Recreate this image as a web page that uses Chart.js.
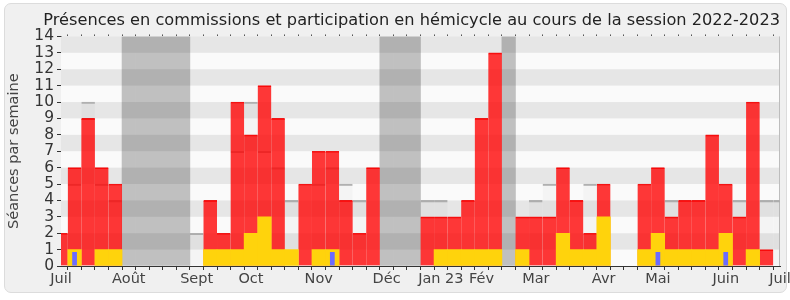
<!DOCTYPE html>
<html>
<head>
<meta charset="utf-8">
<script src="https://cdn.jsdelivr.net/npm/chart.js@4/dist/chart.umd.min.js"></script>
<style>
  html, body { margin: 0; padding: 0; background: #fff; }
  #panel {
    position: absolute; left: 4px; top: 3px; width: 781px; height: 288px;
    background: #f0f0f0; border: 1px solid #dcdcdc; border-radius: 7px;
  }
  #wrap { position: absolute; left: 0; top: 0; width: 790px; height: 300px; }
</style>
</head>
<body>
<div id="panel"></div>
<div id="wrap"><canvas id="chart" width="790" height="300"></canvas></div>
<script>
// semaines de juillet 2022 à juillet 2023 (54 positions)
const mois = {0: 'Juil', 5: 'Août', 10: 'Sept', 14: 'Oct', 19: 'Nov', 24: 'Déc',
  28: 'Jan 23', 31: 'Fév', 35: 'Mar', 40: 'Avr', 44: 'Mai', 49: 'Juin', 53: 'Juil'};
const semaines = Array.from({length: 54}, (_, i) => mois[i] || '');

// vacances parlementaires (index des semaines)
const vacances = [5, 6, 7, 8, 9, 24, 25, 26, 33];

// présences en commission (rouge)
const commissions = [2, 6, 9, 6, 5, 0, 0, 0, 0, 0,
  0, 4, 2, 10, 8, 11, 9, 0, 5, 7,
  7, 4, 2, 6, 0, 0, 0, 3, 3, 3,
  4, 9, 13, 0, 3, 3, 3, 6, 4, 2,
  5, 0, 0, 5, 6, 3, 4, 4, 8, 5,
  3, 10, 1, 0];

// participation en hémicycle (jaune)
const hemicycle = [0, 1, 0, 1, 1, 0, 0, 0, 0, 0,
  0, 1, 1, 1, 2, 3, 1, 1, 0, 1,
  1, 0, 0, 0, 0, 0, 0, 0, 1, 1,
  1, 1, 1, 0, 1, 0, 0, 2, 1, 1,
  3, 0, 0, 1, 2, 1, 1, 1, 1, 2,
  0, 1, 0, 0];

// questions orales (bleu)
const questions = [0, 0.85, 0, 0, 0, 0, 0, 0, 0, 0,
  0, 0, 0, 0, 0, 0, 0, 0, 0, 0,
  0.85, 0, 0, 0, 0, 0, 0, 0, 0, 0,
  0, 0, 0, 0, 0, 0, 0, 0, 0, 0,
  0, 0, 0, 0, 0.85, 0, 0, 0, 0, 0.85,
  0, 0, 0, 0];

// médiane des députés (gris)
const mediane = [null, 5, 10, 5, 4, null, null, null, null, null,
  2, null, null, 7, 10, 7, 6, 4, null, 5,
  6, 5, 4, null, null, null, null, 4, 4, null,
  null, null, null, null, null, 4, 5, null, null, 5,
  null, null, null, null, null, 4, null, null, null, null,
  4, null, 4, 4];

const yMax = 14;
const FONT = "'DejaVu Sans', sans-serif";

const fond = {
  id: 'fond',
  beforeDatasetsDraw(chart) {
    const {ctx, chartArea: a} = chart;
    ctx.save();
    ctx.fillStyle = '#fafafa';
    ctx.fillRect(a.left, a.top, a.width, a.height);
    ctx.restore();
  },
  afterDatasetDraw(chart, args) {
    if (args.index !== 0) return;
    const {ctx, chartArea: a, scales: {y}} = chart;
    ctx.save();
    ctx.fillStyle = 'rgba(0,0,0,0.08)';
    for (let v = 1; v < yMax; v += 2) {
      const top = y.getPixelForValue(v + 1), bot = y.getPixelForValue(v);
      ctx.fillRect(a.left, top, a.width, bot - top);
    }
    ctx.strokeStyle = '#bdbdbd';
    ctx.lineWidth = 1;
    ctx.beginPath();
    ctx.moveTo(a.right - 0.5, a.top);
    ctx.lineTo(a.right - 0.5, a.bottom);
    ctx.stroke();
    ctx.restore();
  }
};

const barre = {grouped: false, barPercentage: 1, categoryPercentage: 1, clip: 0};

new Chart(document.getElementById('chart'), {
  type: 'bar',
  data: {
    labels: semaines,
    datasets: [
      {
        ...barre, label: 'Vacances', order: 5,
        data: semaines.map((_, i) => vacances.includes(i) ? yMax : null),
        backgroundColor: '#c0c0c0', borderWidth: 0
      },
      {
        ...barre, label: 'Médiane', order: 4,
        data: mediane,
        backgroundColor: 'rgba(0,0,0,0.025)',
        borderColor: '#b0b0b0', borderWidth: {top: 1.5, left: 0, right: 0, bottom: 0}
      },
      {
        ...barre, label: 'Commissions', order: 3,
        data: commissions.map(v => v || null),
        backgroundColor: 'rgba(255,0,0,0.78)',
        borderColor: 'rgba(240,0,0,0.9)', borderWidth: {top: 1, left: 0, right: 0, bottom: 0}
      },
      {
        ...barre, label: 'Hémicycle', order: 2,
        data: hemicycle.map(v => v || null),
        backgroundColor: '#ffd30c', borderWidth: 0
      },
      {
        ...barre, barPercentage: 0.35, label: 'Questions', order: 1,
        data: questions.map(v => v || null),
        backgroundColor: '#6b6bff', borderWidth: 0
      }
    ]
  },
  options: {
    responsive: false,
    animation: false,
    events: [],
    layout: {padding: {left: 0, right: 10, top: 0, bottom: 0}},
    plugins: {
      legend: {display: false},
      tooltip: {enabled: false},
      title: {
        display: true,
        text: 'Présences en commissions et participation en hémicycle au cours de la session 2022-2023',
        align: 'end',
        color: '#222',
        font: {family: FONT, size: 16.2, weight: 'normal'},
        padding: {top: 11, bottom: 6}
      }
    },
    scales: {
      x: {
        type: 'category',
        offset: false,
        grid: {drawOnChartArea: false, tickLength: 4, color: '#333'},
        border: {color: '#333', width: 1},
        ticks: {autoSkip: false, maxRotation: 0, minRotation: 0, padding: 1,
          color: '#444', font: {family: FONT, size: 14.5}},
        afterFit: s => { s.height = 34; s.paddingLeft = 0; s.paddingRight = 0; }
      },
      x2: {
        type: 'category',
        position: 'top',
        offset: false,
        grid: {drawOnChartArea: false, tickLength: 2, color: '#555'},
        border: {display: false},
        ticks: {display: false},
        afterFit: s => { s.height = 0; s.paddingLeft = 0; s.paddingRight = 0; }
      },
      y: {
        min: 0, max: yMax,
        grid: {drawOnChartArea: false, tickLength: 4, color: '#333'},
        border: {color: '#333', width: 1},
        ticks: {stepSize: 1, autoSkip: false, padding: 3, color: '#333',
          font: {family: FONT, size: 15.5, lineHeight: 1}},
        title: {display: true, text: 'Séances par semaine', color: '#444',
          font: {family: FONT, size: 14.5}, padding: {top: 6, bottom: 0}},
        afterFit: s => { s.width = 61; s.paddingTop = 0; s.paddingBottom = 0; }
      }
    }
  },
  plugins: [fond]
});
</script>
</body>
</html>
